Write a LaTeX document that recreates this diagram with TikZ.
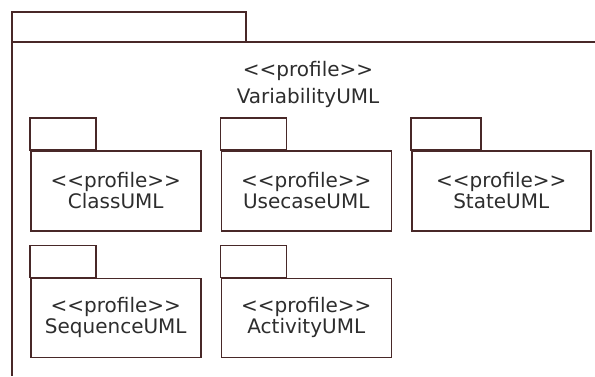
\documentclass[tikz,border=0pt]{standalone}
\usepackage{fontspec}
\setmainfont{DejaVu Sans}
\usepackage{xcolor}
\usetikzlibrary{positioning, calc}
\definecolor{umlline}{RGB}{72,40,40}
\definecolor{umltext}{RGB}{45,45,45}

\begin{document}
\begin{tikzpicture}[x=1pt, y=-1pt,
    pkgbody/.style={draw=umlline, line width=1.5pt, minimum width=170pt, minimum height=80pt,
                    inner sep=0pt, align=center, text=umltext, font=\fontsize{20}{21}\selectfont},
    pkgtab/.style={draw=umlline, line width=1.5pt}]
            \def\tabw{66}
            \def\tabh{32}
            \useasboundingbox (0,0) rectangle (595,376);

            % outer package
            \draw[pkgtab] (12,12) rectangle (246,42);
            \draw[pkgtab] (595,42) -- (12,42) -- (12,376);
            \node[text=umltext, align=center, font=\fontsize{20}{27}\selectfont] (variability) at (308,84)
                {<{}<profile>{}>\\VariabilityUML};

            % first row
            \node[pkgbody, anchor=north west] (class) at (30,150) {<{}<profile>{}>\\ClassUML};
            \node[pkgbody, right=19pt of class] (usecase) {<{}<profile>{}>\\UsecaseUML};
            \node[pkgbody, right=19pt of usecase, minimum width=179pt] (state) {<{}<profile>{}>\\StateUML};

            % second row
            \node[pkgbody, below=46pt of class, minimum height=79pt] (sequence) {<{}<profile>{}>\\SequenceUML};
            \node[pkgbody, right=19pt of sequence, minimum height=79pt] (activity) {<{}<profile>{}>\\ActivityUML};

            \draw[pkgtab] (class.north west) rectangle ++(\tabw,-\tabh);
            \draw[pkgtab] (usecase.north west) rectangle ++(\tabw,-\tabh);
            \draw[pkgtab] (state.north west) rectangle ++(70,-\tabh);
            \draw[pkgtab] (sequence.north west) rectangle ++(\tabw,-\tabh);
            \draw[pkgtab] (activity.north west) rectangle ++(\tabw,-\tabh);
          \end{tikzpicture}
\end{document}
